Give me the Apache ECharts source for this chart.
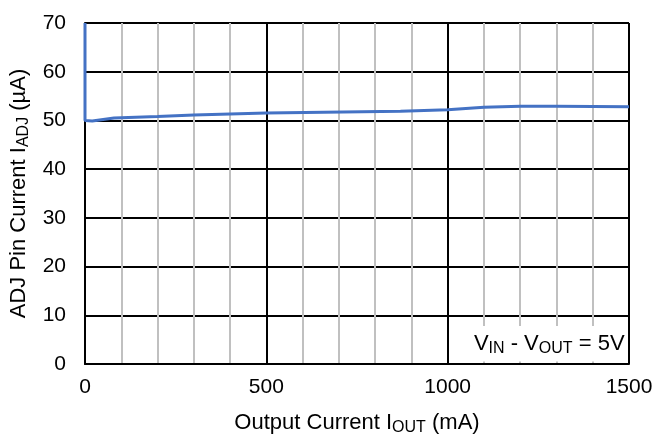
<!DOCTYPE html>
<html>
<head>
<meta charset="utf-8">
<script src="https://cdn.jsdelivr.net/npm/echarts@6/dist/echarts.min.js"></script>
<style>html,body{margin:0;padding:0;background:#fff}#c{width:655px;height:436px}</style>
</head>
<body>
<div id="c"></div>
<script>
var currentMA = [0, 0, 20, 80, 200, 300, 400, 500, 870, 1000, 1100, 1200, 1300, 1500];
var adjUA =     [70, 50, 49.9, 50.5, 50.8, 51.1, 51.3, 51.5, 51.9, 52.2, 52.7, 52.9, 52.9, 52.8];
var xTicks = [0, 500, 1000, 1500];
var yTicks = [0, 10, 20, 30, 40, 50, 60, 70];

var F = 'Arial, "Liberation Sans", sans-serif';
var rich = {
  m: {fontFamily: F, fontSize: 22, color: '#000', lineHeight: 26},
  s: {fontFamily: F, fontSize: 16, color: '#000', lineHeight: 26, padding: [10, 0, 0, 0]}
};
var chart = echarts.init(document.getElementById('c'), null, {renderer: 'canvas'});
chart.setOption({
  animation: false,
  grid: {left: 85, right: 26, top: 23, bottom: 72, containLabel: false, outerBoundsMode: 'none'},
  xAxis: {
    type: 'value', min: xTicks[0], max: xTicks[xTicks.length - 1], interval: xTicks[1] - xTicks[0],
    name: '{m|Output Current I}{s|OUT}{m| (mA)}',
    nameLocation: 'middle', nameGap: 46,
    nameTextStyle: {rich: rich},
    axisLine: {show: true, onZero: false, lineStyle: {color: '#000', width: 2}},
    axisTick: {show: false},
    axisLabel: {fontFamily: F, fontSize: 21, color: '#000', margin: 13, formatter: function (v) { return String(v); }},
    splitLine: {show: true, lineStyle: {color: '#000', width: 2}},
    minorTick: {show: false, splitNumber: 5},
    minorSplitLine: {show: true, lineStyle: {color: '#c0c0c0', width: 2}}
  },
  yAxis: {
    type: 'value', min: yTicks[0], max: yTicks[yTicks.length - 1], interval: yTicks[1] - yTicks[0],
    name: '{m|ADJ Pin Current I}{s|ADJ}{m| (µA)}',
    nameLocation: 'middle', nameGap: 47,
    nameTextStyle: {rich: rich},
    axisLine: {show: true, onZero: false, lineStyle: {color: '#000', width: 2}},
    axisTick: {show: false},
    axisLabel: {fontFamily: F, fontSize: 21, color: '#000', margin: 19, formatter: function (v) { return String(v); }},
    splitLine: {show: true, lineStyle: {color: '#000', width: 2}}
  },
  series: [{
    type: 'line',
    data: currentMA.map(function (x, i) { return [x, adjUA[i]]; }),
    showSymbol: false,
    clip: false,
    lineStyle: {color: '#4472C4', width: 3},
    markArea: {
      silent: true,
      itemStyle: {color: '#fff'},
      label: {
        show: true, position: 'insideRight', distance: 3,
        formatter: '{m|V}{s|IN}{m| - V}{s|OUT}{m| = 5V}',
        rich: rich
      },
      data: [[{coord: [1004, 0.5]}, {coord: [1496, 7.8]}]]
    }
  }]
});
</script>
</body>
</html>
